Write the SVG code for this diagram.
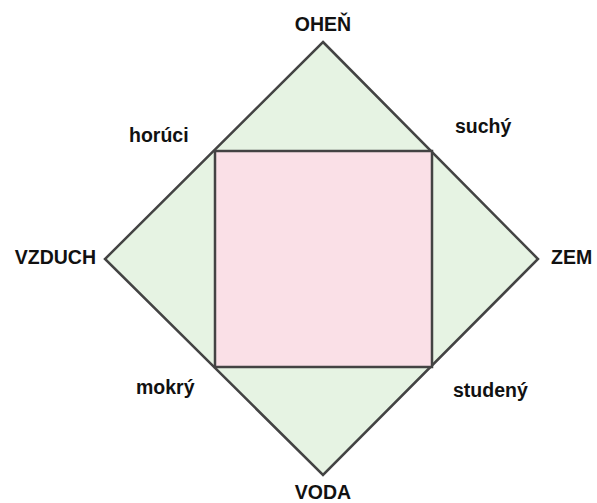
<svg xmlns="http://www.w3.org/2000/svg" width="597" height="503" viewBox="0 0 597 503">
<style>
.shape{stroke:#434343;stroke-width:2.5;stroke-linejoin:miter}
.lbl{font-family:"Liberation Sans",Arial,sans-serif;font-weight:bold;font-size:19.5px;fill:#111}
</style>
<rect width="597" height="503" fill="#fff"/>
<g id="diamond"><polygon class="shape" points="323,42 538,259 323,475 105,259" fill="#e6f3e3"/></g>
<g id="square"><rect class="shape" x="215" y="151" width="217" height="216" fill="#fae0e7"/></g>
<g id="labels">
<text id="ohen" class="lbl" x="323" y="31" text-anchor="middle">OHEŇ</text>
<text id="voda" class="lbl" x="323" y="499" text-anchor="middle">VODA</text>
<text id="vzduch" class="lbl" x="96" y="264" text-anchor="end">VZDUCH</text>
<text id="zem" class="lbl" x="551" y="264">ZEM</text>
<text id="horuci" class="lbl" x="129" y="142">horúci</text>
<text id="suchy" class="lbl" x="455" y="133">suchý</text>
<text id="mokry" class="lbl" x="136" y="394">mokrý</text>
<text id="studeny" class="lbl" x="453" y="397">studený</text>
</g>
</svg>
